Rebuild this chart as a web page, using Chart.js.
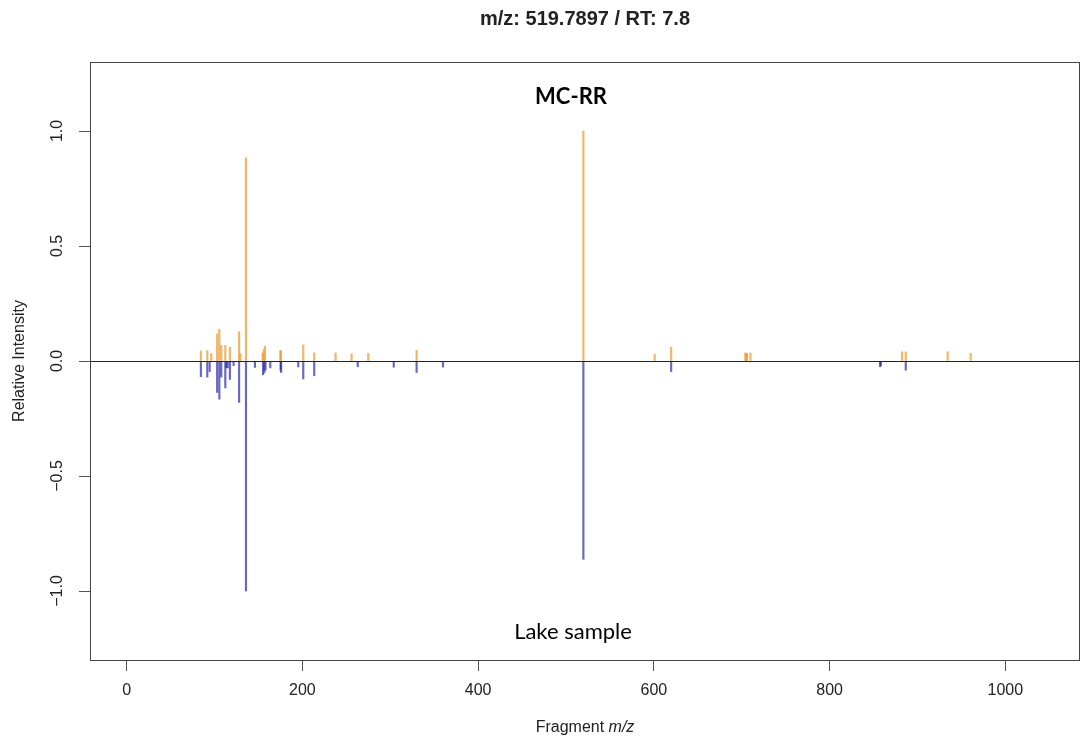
<!DOCTYPE html>
<html>
<head>
<meta charset="utf-8">
<script src="https://cdn.jsdelivr.net/npm/chart.js@4.4.1/dist/chart.umd.min.js"></script>
<style>
html,body{margin:0;padding:0;background:#fff;}
#wrap{width:1081px;height:737px;position:relative;}
</style>
</head>
<body>
<div id="wrap"><canvas id="c"></canvas></div>
<script>
// Library spectrum (MC-RR), plotted upward
const refMz  = [84.5, 91.8, 96.3, 103, 105.5, 107.7, 112.3, 117.5, 128, 129.5, 135.8, 154.7, 156, 157.4, 175.0, 175.5, 201, 213.5, 237.8, 256, 275, 330, 519.8, 601, 619.7, 704, 705.5, 706, 710, 882.5, 886.7, 934.4, 960.6];
const refInt = [0.043, 0.045, 0.032, 0.118, 0.138, 0.068, 0.068, 0.06, 0.127, 0.032, 0.883, 0.035, 0.05, 0.064, 0.045, 0.045, 0.07, 0.035, 0.035, 0.031, 0.033, 0.046, 1.0, 0.03, 0.06, 0.035, 0.032, 0.032, 0.035, 0.04, 0.04, 0.04, 0.033];
// Lake sample spectrum, plotted downward
const smpMz  = [84.5, 91.8, 94.5, 103, 105.5, 107.7, 112.3, 113.5, 115, 117.5, 121.7, 128, 135.8, 146, 155.3, 156.7, 158, 163.5, 175.2, 175.8, 195.3, 201, 213.5, 263, 304, 330, 360, 519.8, 619.7, 857.5, 858.3, 886.7];
const smpInt = [-0.068, -0.07, -0.046, -0.137, -0.166, -0.07, -0.117, -0.03, -0.03, -0.08, -0.02, -0.18, -1.0, -0.028, -0.06, -0.05, -0.04, -0.03, -0.04, -0.05, -0.026, -0.078, -0.064, -0.025, -0.027, -0.05, -0.027, -0.862, -0.046, -0.025, -0.02, -0.04];
const xTicks = [0, 200, 400, 600, 800, 1000];
const yTicks = [-1.0, -0.5, 0.0, 0.5, 1.0];
const titleText = 'm/z: 519.7897 / RT: 7.8';
const topLabel = 'MC-RR';
const bottomLabel = 'Lake sample';

const refData = refMz.map((m, i) => ({x: m, y: refInt[i]}));
const smpData = smpMz.map((m, i) => ({x: m, y: smpInt[i]}));

const FONT = "'Liberation Sans', Arial, sans-serif";

const decor = {
  id: 'decor',
  afterDraw(chart) {
    const {ctx, chartArea: a} = chart;
    const cx = (a.left + a.right) / 2;
    ctx.save();
    ctx.strokeStyle = '#444';
    ctx.lineWidth = 1;
    ctx.strokeRect(a.left + 0.5, a.top + 0.5, a.right - a.left - 1, a.bottom - a.top);
    const y0 = Math.round(chart.scales.y.getPixelForValue(0)) + 0.5;
    ctx.strokeStyle = '#222';
    ctx.beginPath(); ctx.moveTo(a.left, y0); ctx.lineTo(a.right, y0); ctx.stroke();
    ctx.textAlign = 'center';
    ctx.textBaseline = 'middle';
    // main title centred over the plot region
    ctx.fillStyle = '#222';
    ctx.font = 'bold 20px ' + FONT;
    ctx.fillText(titleText, cx, 19);
    ctx.fillStyle = '#000';
    ctx.font = "bold 22px Lato, 'Open Sans', sans-serif";
    ctx.fillText(topLabel, 571, 97);
    ctx.font = "22px Lato, 'Open Sans', sans-serif";
    ctx.fillText(bottomLabel, 573, 632);
    const p1 = 'Fragment ', p2 = 'm/z';
    ctx.font = '16px ' + FONT;
    const w1 = ctx.measureText(p1).width;
    ctx.font = 'italic 16px ' + FONT;
    const w2 = ctx.measureText(p2).width;
    let x = cx - (w1 + w2) / 2;
    ctx.textAlign = 'left';
    ctx.fillStyle = '#222';
    ctx.font = '16px ' + FONT;
    ctx.fillText(p1, x, 728);
    ctx.font = 'italic 16px ' + FONT;
    ctx.fillText(p2, x + w1, 728);
    ctx.restore();
  }
};

new Chart(document.getElementById('c'), {
  type: 'bar',
  data: {
    datasets: [
      {label: 'MC-RR', data: refData, backgroundColor: 'rgba(235,150,40,0.7)', barThickness: 1.5, grouped: false},
      {label: 'Lake sample', data: smpData, backgroundColor: 'rgba(40,40,170,0.7)', barThickness: 1.5, grouped: false}
    ]
  },
  options: {
    responsive: true,
    maintainAspectRatio: false,
    animation: false,
    layout: {padding: {left: 0, right: 1, top: 62, bottom: 0}},
    plugins: {
      legend: {display: false},
      tooltip: {enabled: false},
      title: {display: false}
    },
    scales: {
      x: {
        type: 'linear',
        offset: false,
        min: -41.7,
        max: 1085,
        afterBuildTicks(scale) { scale.ticks = xTicks.map(v => ({value: v})); },
        afterFit(scale) { scale.height = 77; },
        ticks: {color: '#222', font: {family: FONT, size: 16}, padding: 10, maxRotation: 0, autoSkip: false,
                callback: v => String(v)},
        grid: {offset: false, drawOnChartArea: false, drawTicks: true, tickLength: 11, tickColor: '#555', color: '#555'},
        border: {display: false},
        title: {display: false}
      },
      y: {
        type: 'linear',
        min: -1.3,
        max: 1.3,
        afterBuildTicks(scale) { scale.ticks = yTicks.map(v => ({value: v})); },
        afterFit(scale) { scale.width = 90; },
        ticks: {color: '#222', font: {family: FONT, size: 16}, padding: 6, minRotation: 90, maxRotation: 90,
                crossAlign: 'center', autoSkip: false,
                callback: v => (v < 0 ? '\u2212' : '') + Math.abs(v).toFixed(1)},
        grid: {drawOnChartArea: false, drawTicks: true, tickLength: 11, tickColor: '#555', color: '#555'},
        border: {display: false},
        title: {display: true, text: 'Relative Intensity', color: '#222',
                font: {family: FONT, size: 16, lineHeight: 1.2}, padding: {top: 10, bottom: 0}}
      }
    }
  },
  plugins: [decor]
});
</script>
</body>
</html>
